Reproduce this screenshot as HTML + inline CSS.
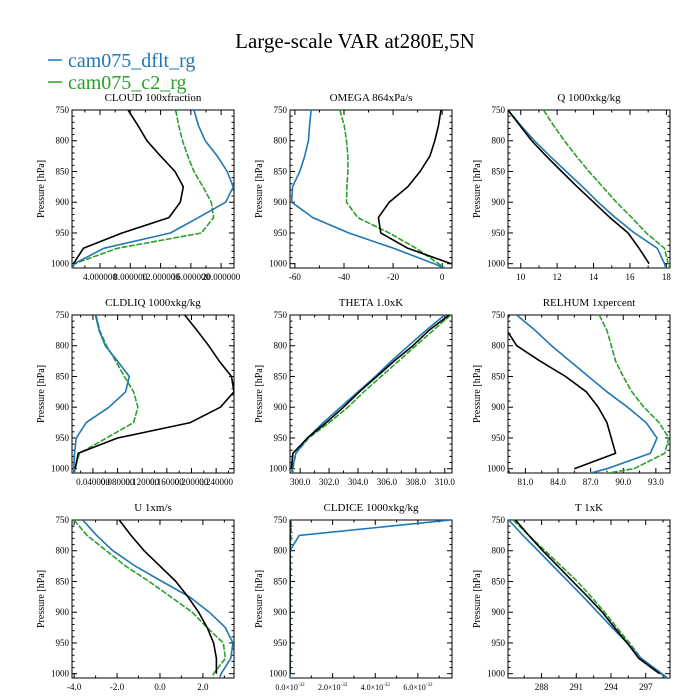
<!DOCTYPE html>
<html><head><meta charset="utf-8"><style>
body{margin:0;background:#fff}
svg{display:block;font-family:"Liberation Serif",serif}
</style></head><body>
<svg id="c" width="700" height="700" viewBox="0 0 700 700">
<text x="355" y="48" text-anchor="middle" font-size="21">Large-scale VAR at280E,5N</text>
<g>
<line x1="48" y1="60" x2="62" y2="60" stroke="#1f77b4" stroke-width="1.5"/>
<text x="68" y="67" font-size="20" fill="#1f77b4">cam075_dflt_rg</text>
<line x1="48" y1="82" x2="62" y2="82" stroke="#2ca02c" stroke-width="1.5"/>
<text x="68" y="89" font-size="20" fill="#2ca02c">cam075_c2_rg</text>
</g>
</svg>
<script>
const levels=[750,775,800,825,850,875,900,925,950,975,1000,1010];
const panelTitles=["CLOUD  100xfraction","OMEGA  864xPa/s","Q  1000xkg/kg","CLDLIQ  1000xkg/kg","THETA  1.0xK","RELHUM  1xpercent","U  1xm/s","CLDICE  1000xkg/kg","T  1xK"];
const xDomains=[[0.3,21.7],[-62,4],[9.3,18.2],[0.006,0.269],[299.3,310.5],[79.4,94.3],[-4.1,3.45],[0,7.6],[285.1,299.1]];
const xTicks=[[4,8,12,16,20],[-60,-40,-20,0],[10,12,14,16,18],[0.04,0.08,0.12,0.16,0.2,0.24],[300,302,304,306,308,310],[81,84,87,90,93],[-4,-2,0,2],[0,2,4,6],[288,291,294,297]];
const xTickLabels=[["4.000000","8.000000","12.000000","16.000000","20.000000"],["-60","-40","-20","0"],["10","12","14","16","18"],["0.040000","0.080000","0.120000","0.160000","0.200000","0.240000"],["300.0","302.0","304.0","306.0","308.0","310.0"],["81.0","84.0","87.0","90.0","93.0"],["-4.0","-2.0","0.0","2.0"],["0.0","2.0","4.0","6.0"],["288","291","294","297"]];
const blackVals=[
[7.7,9.0,10.2,12.0,13.9,15.0,14.6,13.1,6.9,1.8,0.5],
[-0.5,-1.5,-3,-5,-9,-14,-21.6,-26,-25,-14,3.7],
[9.3,9.95,10.6,11.4,12.25,13.1,14,14.9,15.9,16.5,17.05],
[0.189,0.209,0.228,0.245,0.265,0.269,0.247,0.198,0.080,0.016,0.011],
[310.3,308.9,307.8,306.5,305.3,304.1,303,301.8,300.5,299.5,299.4],
[78.0,79.3,80.2,82.35,84.7,86.6,87.7,88.5,88.9,89.3,85.5],
[-1.9,-1.35,-0.74,0.0,0.74,1.3,1.8,2.2,2.5,2.63,2.63],
[0,0,0,0,0,0,0,0,0,0,0],
[285.75,286.9,288.1,289.4,290.7,292.0,293.25,294.3,295.4,296.4,298.2]];
const blueVals=[
[16.4,17.0,17.9,19.5,20.8,21.6,20.6,17.0,13.3,4.5,0.6,0.3],
[-53.4,-54,-54.5,-56,-58,-61,-61.3,-52.7,-38,-19.8,-3.3,2.2],
[9.3,10.0,10.75,11.6,12.5,13.4,14.25,15.2,16.25,17.5,17.9,18],
[0.044,0.05,0.06,0.08,0.099,0.093,0.066,0.029,0.013,0.010,0.009,0.009],
[310,308.7,307.5,306.3,305.2,304,302.8,301.6,300.5,299.7,299.45,299.4],
[80.2,81.9,83.4,85.1,86.8,88.5,90.4,92.1,93.1,92.5,88.5,86.4],
[-3.6,-2.95,-2.2,-1.15,0.1,1.37,2.3,3.05,3.4,3.3,2.85,2.75],
[7.56,0.43,0,0,0,0,0,0,0,0,0,0],
[285.15,286.4,287.7,289,290.3,291.6,292.85,294.1,295.4,296.6,298.4,299.1]];
const greenVals=[
[14.0,14.4,14.9,15.6,16.4,17.6,18.7,19.0,17.4,6.3,0.6,0.3],
[-41.7,-39.9,-39,-38.4,-38.4,-38.8,-39,-34.4,-21.6,-10.6,-1.5,2.2],
[11.25,11.8,12.4,13.05,13.75,14.5,15.25,16.1,16.9,17.9,18.1,18.2],
[0.045,0.051,0.062,0.077,0.091,0.106,0.113,0.106,0.062,0.018,0.011,0.01],
[310.4,309.2,308,306.8,305.6,304.4,303.3,302,300.6,299.7,299.5,299.5],
[87.8,88.5,88.9,89.3,90,90.8,91.9,93.3,94.2,93.8,91,87.6],
[-4,-3.4,-2.5,-1.6,-0.5,0.5,1.5,2.2,2.95,3.05,2.5,2.4],
[0.05,0.05,0,0,0,0,0,0,0,0,0,0],
[285.55,286.9,288.3,289.7,291.1,292.3,293.45,294.5,295.6,296.6,298.3,299.1]];
const yTicks=[750,800,850,900,950,1000];

const NS="http://www.w3.org/2000/svg";
const svg=document.getElementById('c');
const colL=[72,290,508],rowT=[110,315,520],PW=162,PH=158,YMIN=750,YMAX=1007;
function mk(t,a,p){const e=document.createElementNS(NS,t);for(const k in a)e.setAttribute(k,a[k]);(p||svg).appendChild(e);return e;}
for(let i=0;i<9;i++){
  const L=colL[i%3],T=rowT[Math.floor(i/3)];
  const [x0,x1]=xDomains[i];
  const xs=v=>L+(v-x0)/(x1-x0)*PW;
  const ys=p=>T+(p-YMIN)/(YMAX-YMIN)*PH;
  const g=mk('g',{});
  
  
  const t=mk('text',{x:L+PW/2,y:T-9,'text-anchor':'middle','font-size':11},g);
  t.textContent=panelTitles[i];
  
  
  const yt=mk('text',{x:0,y:0,'text-anchor':'middle','font-size':10,transform:`translate(${L-28},${T+PH/2}) rotate(-90)`},g);
  yt.textContent='Pressure [hPa]';
  
  
  mk('clipPath',{id:'cp'+i},g).appendChild(Object.assign(document.createElementNS(NS,'rect'),{}));
  const cr=g.querySelector('#cp'+i+' rect');
  cr.setAttribute('x',L);cr.setAttribute('y',T);cr.setAttribute('width',PW);cr.setAttribute('height',PH);
  // y ticks
  for(let p=750;p<=1000;p+=10){
    const major=p%50===0,len=major?5:2.5;
    mk('line',{x1:L,x2:L+len,y1:ys(p),y2:ys(p),stroke:'#000','stroke-width':1},g);
    mk('line',{x1:L+PW,x2:L+PW-len,y1:ys(p),y2:ys(p),stroke:'#000','stroke-width':1},g);
  }
  yTicks.forEach(p=>{
    const tl=mk('text',{x:L-3,y:ys(p)+3,'text-anchor':'end','font-size':9},g);
    tl.textContent=p;
    
    
  });
  // x ticks
  const tk=xTicks[i],step=tk[1]-tk[0];
  for(let v=tk[0]-step*3;v<=x1+step;v+=step/2){
    if(v<x0-1e-9||v>x1+1e-9)continue;
    const major=Math.abs(((v-tk[0])/step)-Math.round((v-tk[0])/step))<1e-6,len=major?5:2.5;
    mk('line',{x1:xs(v),x2:xs(v),y1:T+PH,y2:T+PH-len,stroke:'#000','stroke-width':1},g);
    mk('line',{x1:xs(v),x2:xs(v),y1:T,y2:T+len,stroke:'#000','stroke-width':1},g);
  }
  tk.forEach((v,j)=>{
    const tl=mk('text',{x:xs(v),y:T+PH+12,'text-anchor':'middle','font-size':i===7?8:9},g);
    
    
    if(i===7){
      tl.textContent=xTickLabels[i][j]+'\u00d710';
      const s=mk('tspan',{dy:-4,'font-size':5},tl);s.textContent='-32';
    } else tl.textContent=xTickLabels[i][j];
  });
  mk('rect',{x:L,y:T,width:PW,height:PH,fill:'none',stroke:'#000','stroke-width':1},g);
  const series=[[greenVals[i],'#2ca02c','6,1.5','series-c2'],[blueVals[i],'#1f77b4','','series-dflt'],[blackVals[i],'#000','','series-obs']];
  series.forEach(([vals,col,da,nm])=>{
    const d=vals.map((v,k)=>(k?'L':'M')+xs(v).toFixed(1)+','+ys(levels[k]).toFixed(1)).join('');
    const pth=mk('path',{d:d,fill:'none',stroke:col,'stroke-width':1.6,'stroke-dasharray':da,'clip-path':`url(#cp${i})`,'stroke-linejoin':'round'},g);
    
    
  });
}
</script>
</body></html>
